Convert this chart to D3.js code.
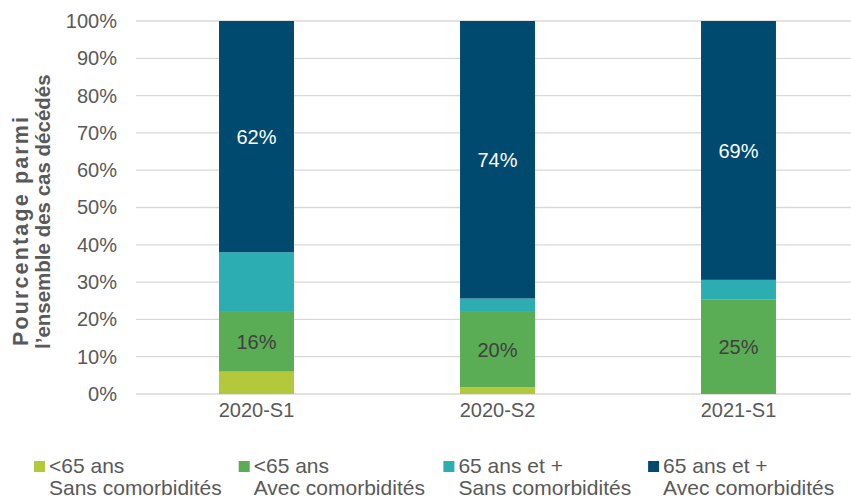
<!DOCTYPE html>
<html>
<head>
<meta charset="utf-8">
<script src="https://cdn.jsdelivr.net/npm/d3@7/dist/d3.min.js"></script>
<style>
  html, body { margin: 0; padding: 0; background: #fff; }
  svg { display: block; font-family: "Liberation Sans", Arial, sans-serif; }
</style>
</head>
<body>
<svg id="chart" width="851" height="500"></svg>
<script>
// Périodes (semestres)
const periods = ["2020-S1", "2020-S2", "2021-S1"];

// Part (%) de chaque groupe parmi les cas décédés, par période
const moins65Sans = [6, 1.8, 0];
const moins65Avec = [16, 20.2, 25.4];
const plus65Sans = [16, 3.6, 5.2];
const plus65Avec = [62, 74.4, 69.4];

// Libellés de légende (deux lignes)
const seriesLine1 = ["<65 ans", "<65 ans", "65 ans et +", "65 ans et +"];
const seriesLine2 = ["Sans comorbidités", "Avec comorbidités", "Sans comorbidités", "Avec comorbidités"];
const seriesKeys = ["m65s", "m65a", "p65s", "p65a"];
const seriesColors = ["#b3c93b", "#5aad54", "#2badb2", "#004a70"];

// Étiquettes affichées dans les barres (série -> texte)
const labelledSeries = ["m65a", "p65a"];
const labelColors = { m65a: "#404040", p65a: "#ffffff" };

// Graduations de l'axe vertical
const yTicks = [0, 10, 20, 30, 40, 50, 60, 70, 80, 90, 100];

const rows = periods.map((p, i) => ({
  period: p,
  m65s: moins65Sans[i],
  m65a: moins65Avec[i],
  p65s: plus65Sans[i],
  p65a: plus65Avec[i]
}));

const svg = d3.select("#chart");
const margin = { left: 136, top: 21, right: -8, bottom: 106 };
const width = 851 - margin.left - margin.right;
const height = 500 - margin.top - margin.bottom;

const g = svg.append("g").attr("transform", `translate(${margin.left},${margin.top})`);

const x = d3.scaleBand().domain(periods).range([0, width]).paddingInner(0.689).paddingOuter(0.3445);
const y = d3.scaleLinear().domain([0, 100]).range([height, 0]);
const color = d3.scaleOrdinal().domain(seriesKeys).range(seriesColors);

// Grille horizontale
g.append("g")
  .selectAll("line")
  .data(yTicks)
  .join("line")
  .attr("x1", 0)
  .attr("x2", width)
  .attr("y1", d => y(d))
  .attr("y2", d => y(d))
  .attr("stroke", "#d9d9d9")
  .attr("stroke-width", 1.3);

// Axe vertical (libellés seuls)
const yAxis = g.append("g")
  .call(d3.axisLeft(y).tickValues(yTicks).tickFormat(d => d + "%").tickSize(0).tickPadding(19));
yAxis.select(".domain").remove();
yAxis.selectAll("text")
  .attr("fill", "#595959")
  .style("font-size", "20px")
  .style("font-family", "'Liberation Sans', Arial, sans-serif");

// Barres empilées
const stack = d3.stack().keys(seriesKeys);
const stacked = stack(rows);

const layers = g.append("g")
  .selectAll("g")
  .data(stacked)
  .join("g")
  .attr("fill", d => color(d.key));

layers.selectAll("rect")
  .data(d => d.map(v => ({ key: d.key, v })))
  .join("rect")
  .attr("x", d => x(d.v.data.period))
  .attr("width", x.bandwidth())
  .attr("y", d => y(d.v[1]))
  .attr("height", d => Math.max(0, y(d.v[0]) - y(d.v[1])));

// Valeurs affichées dans les segments
stacked.filter(s => labelledSeries.includes(s.key)).forEach(s => {
  g.append("g")
    .selectAll("text")
    .data(s)
    .join("text")
    .attr("x", d => x(d.data.period) + x.bandwidth() / 2)
    .attr("y", d => (y(d[0]) + y(d[1])) / 2)
    .attr("dy", "0.38em")
    .attr("text-anchor", "middle")
    .attr("fill", labelColors[s.key])
    .style("font-size", "20px")
    .text(d => Math.round(d[1] - d[0]) + "%");
});

// Axe horizontal (libellés seuls)
const xAxis = g.append("g")
  .attr("transform", `translate(0,${height})`)
  .call(d3.axisBottom(x).tickSize(0).tickPadding(9));
xAxis.select(".domain").remove();
xAxis.selectAll("text")
  .attr("fill", "#595959")
  .style("font-size", "20px")
  .style("font-family", "'Liberation Sans', Arial, sans-serif");

// Titre de l'axe vertical (deux lignes, alignées en bas)
const yTitle = svg.append("text")
  .attr("transform", "rotate(-90)")
  .attr("text-anchor", "start")
  .attr("fill", "#595959")
  .style("font-weight", "bold");
yTitle.append("tspan")
  .attr("x", -346).attr("y", 28)
  .style("font-size", "21.5px")
  .attr("textLength", 229)
  .attr("lengthAdjust", "spacing")
  .text("Pourcentage parmi");
yTitle.append("tspan")
  .attr("x", -349).attr("y", 50)
  .style("font-size", "20.5px")
  .text("l\u2019ensemble des cas décédés");

// Légende
const legend = svg.append("g")
  .selectAll("g")
  .data(seriesKeys)
  .join("g")
  .attr("transform", (d, i) => `translate(${34 + i * 204.7},461)`);

legend.append("rect")
  .attr("width", 11)
  .attr("height", 11)
  .attr("fill", d => color(d));

legend.append("text")
  .attr("x", 15)
  .attr("y", 12)
  .attr("fill", "#595959")
  .style("font-size", "21px")
  .text((d, i) => seriesLine1[i]);

legend.append("text")
  .attr("x", 15)
  .attr("y", 34)
  .attr("fill", "#595959")
  .style("font-size", "21px")
  .text((d, i) => seriesLine2[i]);
</script>
</body>
</html>
